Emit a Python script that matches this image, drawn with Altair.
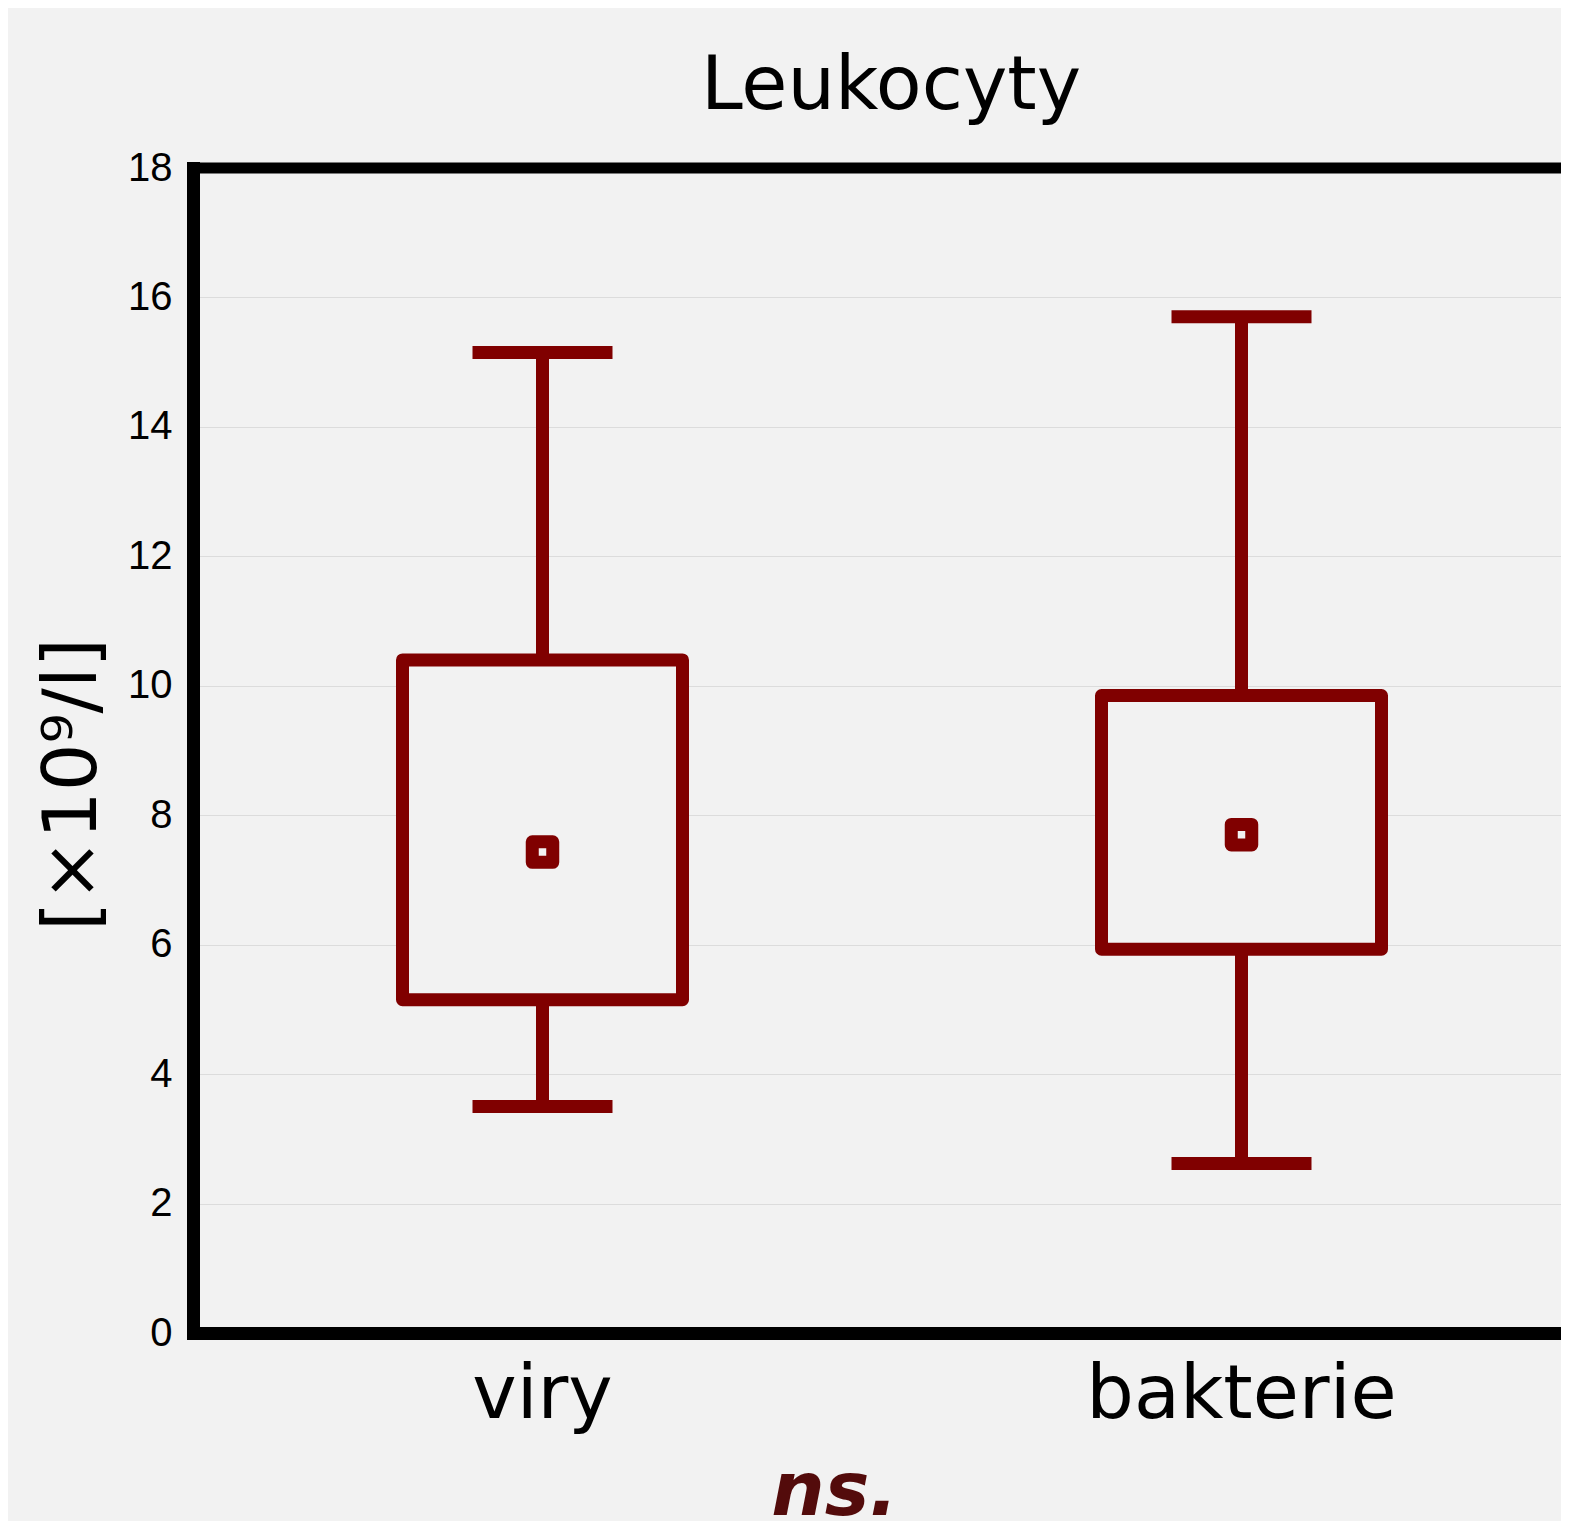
import altair as alt
import pandas as pd

# Data
groups = ["viry", "bakterie"]
whisker_low = [3.5, 2.62]
box_low = [5.15, 5.93]
means = [7.43, 7.7]
box_high = [10.4, 9.85]
whisker_high = [15.15, 15.7]

y_ticks = [0, 2, 4, 6, 8, 10, 12, 14, 16, 18]
y_max = 18

df = pd.DataFrame({
    "group": groups,
    "lo": whisker_low,
    "q1": box_low,
    "mean": means,
    "q3": box_high,
    "hi": whisker_high,
})

RED = "#800000"
BG = "#f2f2f2"
W = 1368
H = 1165

xscale = alt.Scale(domain=groups, range=[0, 1398], paddingInner=0, paddingOuter=0)
yscale = alt.Scale(domain=[0, y_max], nice=False, zero=True)

x_enc = alt.X(
    "group:N",
    scale=xscale,
    sort=groups,
    axis=alt.Axis(
        title="ns.",
        labelAngle=0,
        labelFont="DejaVu Sans",
        labelFontSize=75,
        labelColor="black",
        labelBaseline="alphabetic",
        labelPadding=84,
        labelLimit=2000,
        ticks=False,
        tickSize=0,
        domain=True,
        domainColor="black",
        domainWidth=13,
        domainCap="square",
        grid=False,
        titleFont="DejaVu Sans",
        titleFontSize=75,
        titleFontWeight="bold",
        titleFontStyle="italic",
        titleColor="#530b0b",
        titleX=641,
        titleY=181,
        titleAlign="center",
        titleBaseline="alphabetic",
    ),
)

y_axis = alt.Axis(
    title="[×10⁹/l]",
    values=y_ticks,
    labelFont="Liberation Sans",
    labelFontSize=40,
    labelColor="black",
    labelPadding=21,
    ticks=False,
    tickSize=0,
    domain=True,
    domainColor="black",
    domainWidth=13,
    domainCap="square",
    grid=True,
    gridColor="#dcdcdc",
    gridWidth=1.2,
    titleFont="DejaVu Sans",
    titleFontSize=75,
    titleFontWeight="normal",
    titleColor="black",
    titleAngle=270,
    titleAlign="center",
    titleBaseline="middle",
    titleX=-121,
    titleY=616,
)

base = alt.Chart(df)

whisk_up = base.mark_rule(color=RED, strokeWidth=13).encode(
    x=x_enc,
    y=alt.Y("q3:Q", scale=yscale, axis=y_axis),
    y2="hi:Q",
)
whisk_down = base.mark_rule(color=RED, strokeWidth=13).encode(
    x=x_enc,
    y=alt.Y("lo:Q", scale=yscale, axis=y_axis),
    y2="q1:Q",
)
cap_hi = base.mark_tick(color=RED, orient="horizontal", size=140, thickness=13, opacity=1).encode(
    x=x_enc,
    y=alt.Y("hi:Q", scale=yscale, axis=y_axis),
)
cap_lo = base.mark_tick(color=RED, orient="horizontal", size=140, thickness=13, opacity=1).encode(
    x=x_enc,
    y=alt.Y("lo:Q", scale=yscale, axis=y_axis),
)
box = base.mark_bar(
    size=280, fill=BG, fillOpacity=1, stroke=RED, strokeWidth=13, strokeJoin="round"
).encode(
    x=x_enc,
    y=alt.Y("q1:Q", scale=yscale, axis=y_axis),
    y2="q3:Q",
)
mean_pt = base.mark_point(
    shape="square", filled=False, size=420, color=RED, strokeWidth=13,
    strokeJoin="round", opacity=1
).encode(
    x=x_enc,
    y=alt.Y("mean:Q", scale=yscale, axis=y_axis),
)

top_edge = alt.Chart(pd.DataFrame({"edge": [y_max]})).mark_rule(
    color="black", strokeWidth=11, strokeCap="square"
).encode(y=alt.Y("edge:Q", scale=yscale, axis=y_axis))

chart = (
    alt.layer(whisk_up, whisk_down, cap_hi, cap_lo, box, mean_pt, top_edge)
    .properties(
        width=W,
        height=H,
        title=alt.TitleParams(
            "Leukocyty",
            font="DejaVu Sans",
            fontSize=75,
            fontWeight="normal",
            color="black",
            anchor="middle",
            baseline="alphabetic",
            frame="group",
            offset=58,
            dx=14,
            dy=94,
        ),
        autosize=alt.AutoSizeParams(type="none"),
        padding={"left": 185, "top": 160, "right": 0, "bottom": 188},
        background=BG,
    )
    .configure_view(stroke=None)
)

chart.save("out.html", embed_options={"renderer": "svg", "actions": False})
